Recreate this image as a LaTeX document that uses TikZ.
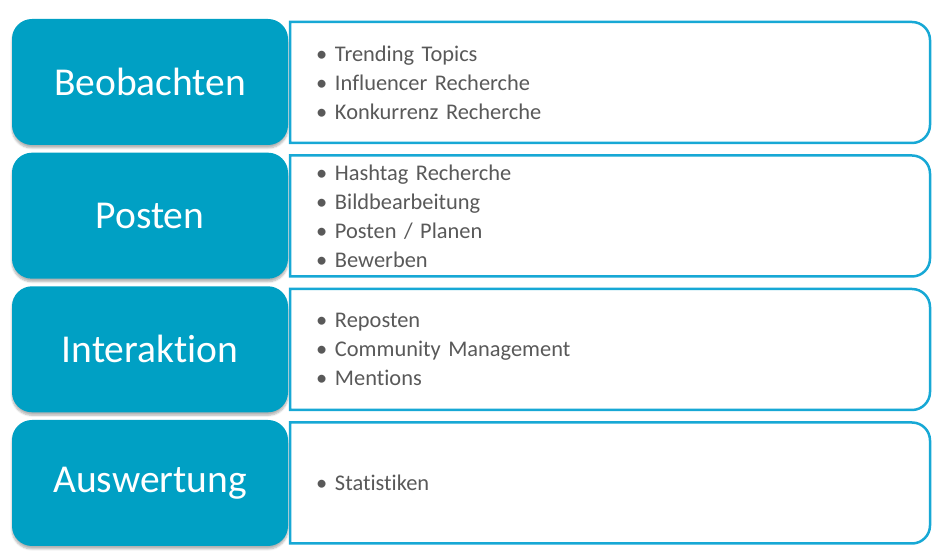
\documentclass[tikz,border=0pt]{standalone}
\usepackage{fontspec}
\setmainfont{Carlito}[Ligatures=NoCommon]
\usetikzlibrary{shadows.blur}
\definecolor{stagefill}{HTML}{00A0C4}
\definecolor{stageline}{HTML}{17A8D5}
\definecolor{itemtext}{HTML}{595959}
\newcommand{\itm}[1]{\makebox[19pt][l]{\textbullet}#1}

\begin{document}
\begin{tikzpicture}[x=1pt,y=1pt,
    stage/.style={fill=stagefill,text=white,rounded corners=20pt,minimum width=276pt,minimum height=126pt,
      font=\fontsize{39.5}{44}\selectfont,blur shadow={shadow xshift=0pt,shadow yshift=-3pt,shadow blur steps=6,shadow opacity=30}},
    items/.style={fill=white,text=itemtext,minimum width=640pt,minimum height=121pt,text width=588pt,
      inner xsep=26pt,outer sep=0pt,align=left,font=\fontsize{22.4}{29}\selectfont},
    itemline/.style={draw=stageline,line width=2.5pt}]
  \useasboundingbox (0,0) rectangle (948,556);
  % left column
  \node[stage] (s1) at (150,474) {Beobachten};
  \node[stage] (s2) at (150,340.3) {Posten};
  \node[stage] (s3) at (150,206.7) {Interaktion};
  \node[stage] (s4) at (150,73) {Auswertung};
  % right column
  \node[items] (b1) at (610,473.5) {\itm{Trending Topics}\\\itm{Influencer Recherche}\\\itm{Konkurrenz Recherche}};
  \node[items] (b2) at (610,340) {\itm{Hashtag Recherche}\\\itm{Bildbearbeitung}\\\itm{Posten / Planen}\\\itm{Bewerben}};
  \node[items] (b3) at (610,206.5) {\itm{Reposten}\\\itm{Community Management}\\\itm{Mentions}};
  \node[items] (b4) at (610,73) {\itm{Statistiken}};
  \foreach \n in {b1,b2,b3,b4}
    \draw[itemline] (\n.north west) -- ([xshift=-18pt]\n.north east) arc[start angle=90,end angle=0,radius=18pt]
      -- ([yshift=18pt]\n.south east) arc[start angle=0,end angle=-90,radius=18pt] -- (\n.south west) -- cycle;
\end{tikzpicture}
\end{document}
